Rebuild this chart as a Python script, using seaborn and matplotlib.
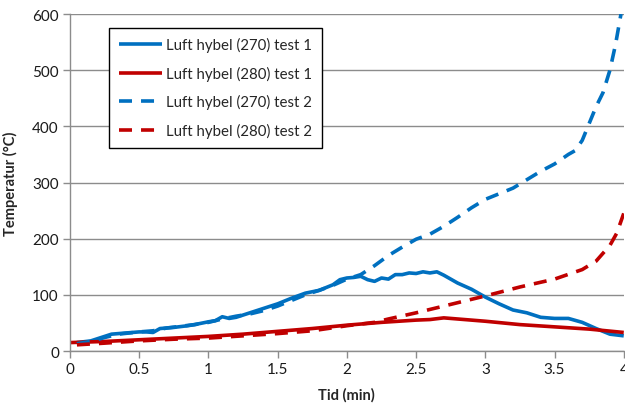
import matplotlib
matplotlib.use("Agg")
import matplotlib.pyplot as plt
import seaborn as sns
import pandas as pd

# ---- data ----
t_b1 = [0.05,0.15,0.25,0.3,0.4,0.5,0.55,0.6,0.65,0.75,0.85,0.9,1.0,1.05,1.1,1.15,1.2,1.3,1.4,1.5,1.6,1.7,1.8,1.9,1.95,2.0,2.05,2.1,2.15,2.2,2.25,2.3,2.35,2.4,2.45,2.5,2.55,2.6,2.65,2.7,2.8,2.9,3.0,3.1,3.2,3.3,3.4,3.5,3.6,3.7,3.8,3.85,3.9,4.0]
v_b1 = [15,18,26,30,32,34,34,33,40,42,45,47,52,54,61,58,60,68,76,84,94,103,108,118,127,130,131,133,127,124,130,128,136,136,139,138,141,139,141,135,121,110,96,84,73,68,60,58,58,51,40,35,30,27]

t_b2 = [0.05,0.15,0.25,0.35,0.5,0.6,0.7,0.8,0.9,1.0,1.1,1.2,1.3,1.4,1.5,1.6,1.7,1.8,1.9,2.0,2.1,2.2,2.3,2.4,2.5,2.6,2.7,2.8,2.9,3.0,3.1,3.2,3.3,3.4,3.5,3.6,3.65,3.7,3.75,3.8,3.85,3.9,3.94,3.98]
v_b2 = [13,17,24,30,34,36,41,44,47,51,57,62,66,72,80,90,100,108,117,128,136,152,170,185,199,208,222,238,255,270,280,290,305,320,333,350,357,375,405,435,460,500,545,600]

t_r1 = [0,0.25,0.5,0.75,1.0,1.25,1.5,1.75,2.0,2.25,2.5,2.6,2.7,2.8,3.0,3.25,3.5,3.75,4.0]
v_r1 = [15,17,20,23,26,30,35,40,46,51,55,56,59,57,53,47,43,39,33]

t_r2 = [0.05,0.25,0.5,0.75,1.0,1.25,1.5,1.75,2.0,2.2,2.3,2.5,2.75,3.0,3.25,3.5,3.7,3.8,3.9,3.95,4.0]
v_r2 = [11,14,18,21,23,27,31,36,45,51,57,68,83,98,114,128,145,160,188,210,245]

labels = ["Luft hybel (270) test 1", "Luft hybel (280) test 1",
          "Luft hybel (270) test 2", "Luft hybel (280) test 2"]
x_ticks = [0, 0.5, 1, 1.5, 2, 2.5, 3, 3.5, 4]
x_ticklabels = ["0", "0.5", "1", "1.5", "2", "2.5", "3", "3.5", "4"]
y_ticks = [0, 100, 200, 300, 400, 500, 600]

BLUE = "#0070C0"
RED = "#C00000"

sns.set_theme(style="white")
plt.rcParams['font.family'] = ['Lato', 'DejaVu Sans']

fig = plt.figure(figsize=(6.25, 4.06), dpi=100)
ax = fig.add_axes([0.112, 0.133, 0.886, 0.830])

series = [
    (t_b1, v_b1, BLUE, False),
    (t_r1, v_r1, RED, False),
    (t_b2, v_b2, BLUE, True),
    (t_r2, v_r2, RED, True),
]
handles = []
for (t, v, c, dashed), lab in zip(series, labels):
    df = pd.DataFrame({"t": t, "v": v})
    n_before = len(ax.lines)
    sns.lineplot(data=df, x="t", y="v", color=c, lw=2.6, ax=ax, estimator=None)
    line = ax.lines[n_before]
    line.set_solid_capstyle("butt")
    if dashed:
        line.set_dashes((3.6, 2.5))
        line.set_dash_capstyle("butt")
    line.set_label(lab)
    handles.append(line)

ax.set_xlim(0, 4)
ax.set_ylim(0, 600)
ax.set_xticks(x_ticks)
ax.set_xticklabels(x_ticklabels)
ax.set_yticks(y_ticks)
ax.grid(axis="y", color="#8C8C8C", lw=1)
ax.set_axisbelow(True)
for s in ["top", "right"]:
    ax.spines[s].set_visible(False)
for s in ["left", "bottom"]:
    ax.spines[s].set_color("#8C8C8C")
    ax.spines[s].set_linewidth(1)
ax.tick_params(axis="both", which="both", direction="out", length=5, width=1,
               color="#8C8C8C", labelsize=11, labelcolor="#1a1a1a", pad=3,
               bottom=True, left=True)
ax.set_xlabel("Tid (min)", fontsize=10.5, fontweight="bold", labelpad=8)
ax.set_ylabel("Temperatur (°C)", fontsize=10.5, fontweight="bold", labelpad=10)

leg = ax.legend(handles=handles, labels=labels, loc="upper left",
                bbox_to_anchor=(0.07, 0.96), borderaxespad=0,
                frameon=True, fancybox=False,
                edgecolor="black", fontsize=10.8, handlelength=2.9,
                labelspacing=0.9, borderpad=0.65, handletextpad=0.25)
leg.get_frame().set_linewidth(1.0)
leg.get_frame().set_alpha(1)

fig.savefig("out.png", dpi=100)
